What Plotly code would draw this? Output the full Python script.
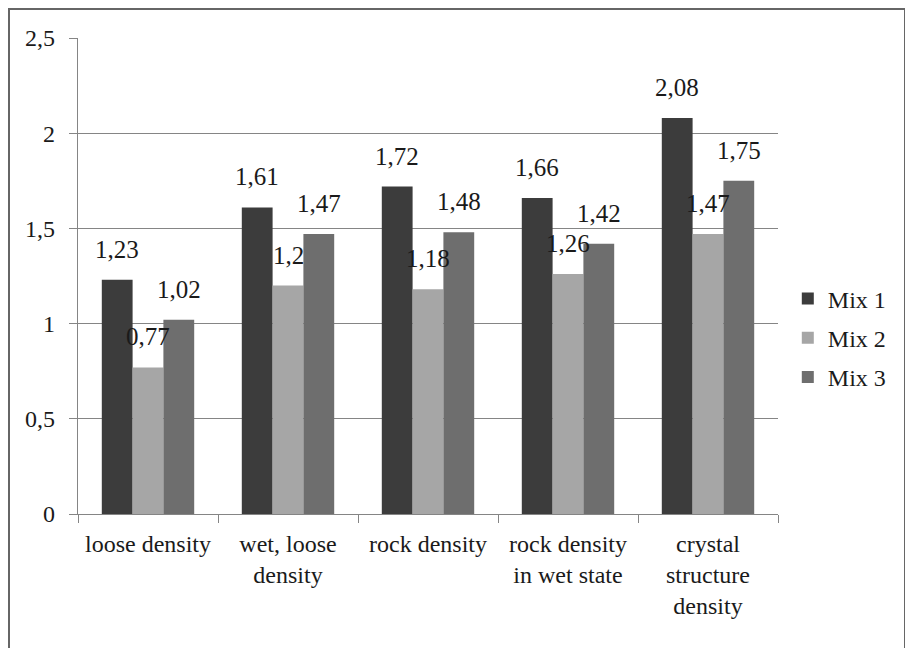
import plotly.graph_objects as go

categories = ["loose density", "wet, loose<br>density", "rock density",
              "rock density<br>in wet state", "crystal<br>structure<br>density"]
mix1 = [1.23, 1.61, 1.72, 1.66, 2.08]
mix2 = [0.77, 1.2, 1.18, 1.26, 1.47]
mix3 = [1.02, 1.47, 1.48, 1.42, 1.75]
series_names = ["Mix 1", "Mix 2", "Mix 3"]
ytick_vals = [0, 0.5, 1, 1.5, 2, 2.5]
ytick_text = ["0", "0,5", "1", "1,5", "2", "2,5"]
colors = ["#3c3c3c", "#a6a6a6", "#6e6e6e"]

FONT = "Liberation Serif"
TXT = "#1a1a1a"
fig = go.Figure()
offsets = [-31, 0, 31]
for name, vals, c, dx in zip(series_names, [mix1, mix2, mix3], colors, offsets):
    fig.add_trace(go.Bar(
        x=categories, y=vals, name=name, marker_color=c, marker_line_width=0,
        legendgroup=name,
    ))
    for cat, v in zip(categories, vals):
        fig.add_annotation(x=cat, y=v, text=f"{v:g}".replace(".", ","),
                           xshift=dx, yshift=15, yanchor="bottom", showarrow=False,
                           font=dict(family=FONT, size=25, color=TXT))

fig.update_layout(
    width=905, height=640,
    margin=dict(l=70, r=135, t=30, b=134, autoexpand=False),
    paper_bgcolor="white", plot_bgcolor="white",
    barmode="group", bargap=0.34, bargroupgap=0,
    font=dict(family=FONT, size=24, color=TXT),
    legend=dict(x=1.014, y=0.37, yanchor="middle", xanchor="left",
                font=dict(family=FONT, size=24, color=TXT),
                tracegroupgap=5),
    showlegend=True,
)
fig.update_yaxes(range=[0, 2.5], tickvals=ytick_vals, ticktext=ytick_text,
                 showgrid=True, gridcolor="#858585", gridwidth=1.2,
                 showline=True, linecolor="#858585", linewidth=1.2,
                 ticks="outside", ticklen=8, tickcolor="#858585",
                 ticklabelstandoff=9, automargin=False,
                 tickfont=dict(family=FONT, size=24, color=TXT),
                 zeroline=False)
fig.update_xaxes(showline=True, linecolor="#858585", linewidth=1.2,
                 ticks="outside", tickson="boundaries", ticklen=8, tickcolor="#858585",
                 ticklabelstandoff=8, tickangle=0, automargin=False,
                 tickfont=dict(family=FONT, size=24, color=TXT))
fig.add_shape(type="rect", xref="paper", yref="paper",
              x0=-69/700, x1=827/700, y0=-0.30, y1=505/476,
              line=dict(color="#666", width=2), layer="below")
fig.write_html("out.html")
